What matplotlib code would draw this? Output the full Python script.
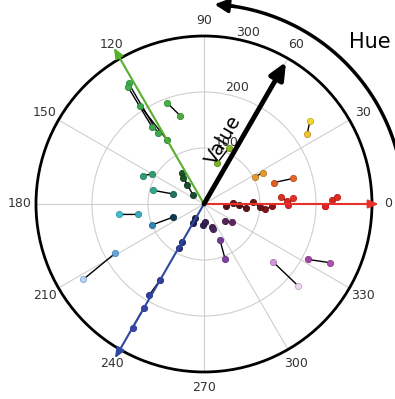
import numpy as np
import matplotlib
matplotlib.use("Agg")
import matplotlib.pyplot as plt
from matplotlib.colors import hsv_to_rgb

# each pair of measurements: hue (deg), value, saturation, brightness for point a and point b
hue_a = [38, 28, 17, 356, 358, 2, 355, 5, 359, 2, 359, 321, 294, 267, 289, 332, 320,
         237, 240, 240, 240, 209, 187, 202, 155, 165, 110, 122, 123, 123, 125, 128, 72]
val_a = [240, 103, 131, 40, 62, 88, 110, 138, 150, 228, 216, 48, 70, 38, 43, 211, 162,
         30, 78, 157, 214, 181, 153, 100, 120, 94, 192, 254, 250, 209, 68, 60, 77]
sat_a = [0.8, 0.8, 0.85, 0.8, 0.8, 0.8, 0.85, 0.85, 0.85, 0.85, 0.85, 0.6, 0.6, 0.6, 0.6, 0.6, 0.3,
         0.7, 0.7, 0.7, 0.68, 0.55, 0.7, 0.72, 0.7, 0.7, 0.65, 0.65, 0.65, 0.65, 0.7, 0.7, 0.8]
bri_a = [0.95, 0.9, 0.88, 0.35, 0.35, 0.38, 0.5, 0.85, 0.88, 0.85, 0.9, 0.35, 0.58, 0.33, 0.35, 0.65, 0.85,
         0.3, 0.5, 0.62, 0.68, 0.87, 0.82, 0.7, 0.62, 0.65, 0.7, 0.68, 0.68, 0.66, 0.32, 0.32, 0.7]
hue_b = [34, 28, 16, 2, 355, 357, 358, 2, 4, 3, 359, 327, 291, 273, 290, 335, 319,
         240, 240, 239, 240, 212, 189, 203, 150, 162, 105, 123, 124, 120, 132, 141, 66]
val_b = [222, 119, 166, 52, 75, 100, 122, 148, 160, 238, 216, 59, 105, 32, 47, 248, 222,
         40, 90, 189, 255, 254, 119, 60, 107, 58, 163, 152, 165, 132, 45, 25, 110]
sat_b = [0.8, 0.8, 0.8, 0.8, 0.8, 0.8, 0.85, 0.85, 0.85, 0.85, 0.85, 0.6, 0.6, 0.6, 0.6, 0.55, 0.13,
         0.7, 0.7, 0.7, 0.68, 0.28, 0.7, 0.75, 0.7, 0.72, 0.65, 0.65, 0.65, 0.65, 0.7, 0.7, 0.8]
bri_b = [0.95, 0.9, 0.9, 0.38, 0.36, 0.4, 0.52, 0.86, 0.9, 0.88, 0.9, 0.38, 0.64, 0.32, 0.36, 0.7, 0.96,
         0.3, 0.52, 0.64, 0.7, 0.96, 0.75, 0.3, 0.62, 0.45, 0.68, 0.66, 0.66, 0.64, 0.3, 0.3, 0.72]

r_ticks = [100, 200, 300]
theta_ticks = list(range(0, 360, 30))


def point_color(h, s, b):
    # map the plotted hue angle onto the display hue of the wheel used
    hh = np.interp(h, [0, 20, 40, 240, 290, 335, 345, 360],
                   [0, 22, 55, 235, 275, 302, 345, 360]) / 360.0
    return hsv_to_rgb([hh % 1.0, s, b])


fig = plt.figure(figsize=(3.95, 3.99), dpi=100)
ax = fig.add_axes([0.0911, 0.0677, 0.8506, 0.8421], projection="polar")
ax.set_ylim(0, 300)
ax.set_rticks(r_ticks)
ax.set_rlabel_position(79)
ax.set_thetagrids(theta_ticks, [str(t) for t in theta_ticks])
ax.tick_params(axis="x", pad=1, labelsize=9, colors="#333333")
ax.tick_params(axis="y", labelsize=9, colors="#333333")
ax.grid(color="#cfcfcf", lw=0.8)
ax.spines["polar"].set_linewidth(2)
ax.spines["polar"].set_color("black")

# the connecting segments and dots
for i in range(len(hue_a)):
    t = np.radians([hue_a[i], hue_b[i]])
    ax.plot(t, [val_a[i], val_b[i]], color="black", lw=1, zorder=3)
for h, v, s, b in zip(hue_a + hue_b, val_a + val_b, sat_a + sat_b, bri_a + bri_b):
    c = point_color(h, s, b)
    ax.plot(np.radians(h), v, "o", ms=4.5, color=c, mec=c * 0.8, mew=0.6, zorder=4)

# primary hue axes
for ang, rr, col in [(0, 312, "#e8302a"), (120, 322, "#58b030"), (240, 318, "#3048a0")]:
    ax.annotate("", xy=(np.radians(ang), rr), xytext=(0, 0),
                arrowprops=dict(arrowstyle="-|>,head_length=0.6,head_width=0.25",
                                color=col, lw=1.5, shrinkA=0, shrinkB=0),
                annotation_clip=False, zorder=5)

# value arrow
ax.annotate("", xy=(np.radians(60), 293), xytext=(0, 0),
            arrowprops=dict(arrowstyle="-|>,head_length=1.0,head_width=0.45",
                            color="black", lw=3.5, shrinkA=0, shrinkB=0),
            zorder=6)
ax.text(np.radians(73), 120, "Value", rotation=60, fontsize=14,
        ha="center", va="center", zorder=7)

# hue arc outside the wheel
arc_t = np.radians(np.linspace(5, 82, 100))
ax.plot(arc_t, np.full_like(arc_t, 357), color="black", lw=2.5, clip_on=False)
ax.annotate("", xy=(np.radians(87), 357), xytext=(np.radians(81), 357),
            arrowprops=dict(arrowstyle="-|>,head_length=0.8,head_width=0.4",
                            color="black", lw=2.5, shrinkA=0, shrinkB=0),
            annotation_clip=False)
fig.text(370 / 395, 1 - 42 / 399, "Hue", fontsize=15, ha="center", va="center")

fig.savefig("out.png", dpi=100)
